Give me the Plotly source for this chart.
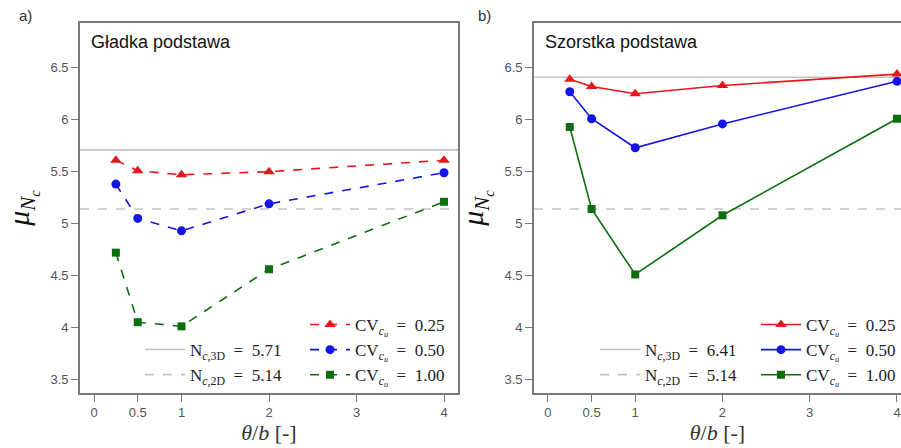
import plotly.graph_objects as go

# theta/b values (shared by both panels)
theta_b = [0.25, 0.5, 1, 2, 4]

# Panel a) smooth base
smooth_cv025 = [5.61, 5.51, 5.47, 5.50, 5.61]
smooth_cv050 = [5.38, 5.05, 4.93, 5.19, 5.49]
smooth_cv100 = [4.72, 4.05, 4.01, 4.56, 5.21]
smooth_nc3d = 5.71
smooth_nc2d = 5.14

# Panel b) rough base
rough_cv025 = [6.39, 6.32, 6.25, 6.33, 6.44]
rough_cv050 = [6.27, 6.01, 5.73, 5.96, 6.37]
rough_cv100 = [5.93, 5.14, 4.51, 5.08, 6.01]
rough_nc3d = 6.41
rough_nc2d = 5.14

x_tickvals = [0, 0.5, 1, 2, 3, 4]
x_ticktext = ["0", "0.5", "1", "2", "3", "4"]
y_tickvals = [3.5, 4, 4.5, 5, 5.5, 6, 6.5]
y_ticktext = ["3.5", "4", "4.5", "5", "5.5", "6", "6.5"]

X_RANGE_A = [-0.16, 4.16]
X_RANGE_B = [-0.16, 4.046]
Y_RANGE = [3.368, 6.932]

W, H = 901, 448
RED, BLUE, GREEN = "#e8161b", "#1414e6", "#0c6e0c"
REF_GRAY = "#c4c4c4"
SERIF = "Liberation Serif"

cv_labels = [
    "CV<sub><i>c<sub>u</sub></i></sub>  =  0.25",
    "CV<sub><i>c<sub>u</sub></i></sub>  =  0.50",
    "CV<sub><i>c<sub>u</sub></i></sub>  =  1.00",
]

fig = go.Figure()


def add_panel(xa, ya, xrange, series, nc3d, nc2d, dash, ref_legend, cv_legend):
    # reference lines
    fig.add_trace(go.Scatter(
        x=xrange, y=[nc3d, nc3d], mode="lines", xaxis=xa, yaxis=ya,
        line=dict(color=REF_GRAY, width=1.6),
        name=f"N<sub><i>c</i>,3D</sub>  =  {nc3d:.2f}", legend=ref_legend,
        hoverinfo="skip"))
    fig.add_trace(go.Scatter(
        x=xrange, y=[nc2d, nc2d], mode="lines", xaxis=xa, yaxis=ya,
        line=dict(color=REF_GRAY, width=1.6, dash="dash"),
        name=f"N<sub><i>c</i>,2D</sub>  =  {nc2d:.2f}", legend=ref_legend,
        hoverinfo="skip"))
    styles = [(RED, "triangle-up", 10), (BLUE, "circle", 9), (GREEN, "square", 8)]
    for vals, (col, sym, sz), lab in zip(series, styles, cv_labels):
        fig.add_trace(go.Scatter(
            x=theta_b, y=vals, mode="lines+markers", xaxis=xa, yaxis=ya,
            line=dict(color=col, width=1.6, dash=dash),
            marker=dict(color=col, symbol=sym, size=sz),
            name=lab, legend=cv_legend, cliponaxis=False))


add_panel("x", "y", X_RANGE_A, [smooth_cv025, smooth_cv050, smooth_cv100],
          smooth_nc3d, smooth_nc2d, "dash", "legend", "legend2")
add_panel("x2", "y2", X_RANGE_B, [rough_cv025, rough_cv050, rough_cv100],
          rough_nc3d, rough_nc2d, "solid", "legend3", "legend4")

AX_COL = "#7a7a7a"
TICK_FONT = dict(family="Liberation Sans", size=13, color="#555555")

y_dom = [1 - 393 / H, 1 - 23 / H]
xaxis_common = dict(
    tickvals=x_tickvals, ticktext=x_ticktext, ticks="outside", ticklen=7,
    tickcolor=AX_COL, tickwidth=1.3, showgrid=False, zeroline=False,
    showline=True, linecolor=AX_COL, linewidth=1.6, tickfont=TICK_FONT,
    title=dict(text="<i>θ</i>/<i>b</i> [-]", font=dict(family=SERIF, size=22, color="#333"),
               standoff=4))
yaxis_common = dict(
    tickvals=y_tickvals, ticktext=y_ticktext, ticks="outside", ticklen=7,
    tickcolor=AX_COL, tickwidth=1.3, showgrid=False, zeroline=False,
    showline=True, linecolor=AX_COL, linewidth=1.6, tickfont=TICK_FONT,
    range=Y_RANGE, domain=y_dom,
    title=dict(text="<i>μ</i><sub><i>N<sub>c</sub></i></sub>",
               font=dict(family=SERIF, size=30, color="#111"), standoff=12))

legend_common = dict(
    bgcolor="rgba(0,0,0,0)", font=dict(family=SERIF, size=17, color="#222"),
    itemwidth=40, tracegroupgap=0, xanchor="left", yanchor="bottom",
    borderwidth=0)

fig.update_layout(
    width=W, height=H, margin=dict(l=0, r=0, t=0, b=0, autoexpand=False),
    paper_bgcolor="white", plot_bgcolor="white",
    xaxis=dict(xaxis_common, domain=[80 / W, 458 / W], range=X_RANGE_A, mirror=True),
    yaxis=dict(yaxis_common, anchor="x", mirror=True),
    xaxis2=dict(xaxis_common, domain=[534 / W, 1.0], range=X_RANGE_B, anchor="y2", mirror=True),
    yaxis2=dict(yaxis_common, anchor="x2"),
    legend=dict(legend_common, x=140 / W, y=1 - 393 / H),
    legend2=dict(legend_common, x=305 / W, y=1 - 393 / H),
    legend3=dict(legend_common, x=595 / W, y=1 - 393 / H),
    legend4=dict(legend_common, x=756 / W, y=1 - 393 / H),
    showlegend=True,
)

# panel letters and titles
for txt, px in [("a)", 17), ("b)", 476)]:
    fig.add_annotation(text=txt, x=px / W, y=1 - 16 / H, xref="paper", yref="paper",
                       xanchor="left", yanchor="middle", showarrow=False,
                       font=dict(family="Liberation Sans", size=15, color="#333"))
for txt, px in [("Gładka podstawa", 89), ("Szorstka podstawa", 543)]:
    fig.add_annotation(text=txt, x=px / W, y=1 - 42 / H, xref="paper", yref="paper",
                       xanchor="left", yanchor="middle", showarrow=False,
                       font=dict(family="Liberation Sans", size=18, color="#111"))

fig.write_html("out.html")
